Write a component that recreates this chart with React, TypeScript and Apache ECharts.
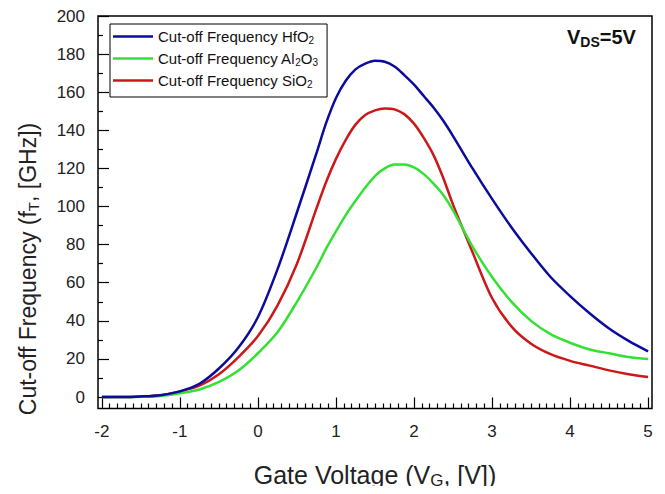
import React, { useEffect, useRef } from "react";
import * as echarts from "echarts";

const FONT = "'Liberation Sans', Arial, sans-serif";

// Gate voltage samples (V)
const vg = [
  -2, -1.75, -1.5, -1.25, -1, -0.75, -0.5, -0.25, 0, 0.25, 0.5,
  0.75, 0.875, 1, 1.125, 1.25, 1.375, 1.5, 1.625, 1.75, 1.875, 2, 2.125, 2.25, 2.375, 2.5,
  2.75, 3, 3.25, 3.5, 3.75, 4, 4.25, 4.5, 4.75, 5,
];
// Cut-off frequency (GHz)
const hfo2 = [
  0, 0, 0.3, 1, 3, 7, 15, 26, 42, 67, 97,
  128, 144, 157, 166, 172, 175, 176.5, 176, 173.5, 169, 164, 158, 152, 145, 137,
  120, 104, 89, 75.5, 63, 53, 44, 36, 29.5, 24,
];
const al2o3 = [
  0, 0, 0.2, 0.6, 2, 4, 8, 14, 23, 34, 50,
  68, 78, 87, 95.5, 103, 110, 116, 120, 122, 122, 120.5, 117, 112, 106, 98,
  79, 63, 50, 40, 33, 28.5, 25, 23, 21, 20,
];
const sio2 = [
  0, 0, 0.3, 1, 3, 6, 12, 21, 32, 48, 70,
  99, 113, 125, 135, 143, 148, 150.5, 151.5, 151, 148.5, 143.5, 136, 127, 115, 101,
  76, 52, 37, 28, 22.5, 19, 16.5, 14, 12, 10.5,
];

const seriesNames = [
  "Cut-off Frequency HfO2",
  "Cut-off Frequency Al2O3",
  "Cut-off Frequency SiO2",
];
const legendRich = [
  "Cut-off Frequency HfO{s|2}",
  "Cut-off Frequency Al{s|2}O{s|3}",
  "Cut-off Frequency SiO{s|2}",
];
const colors = ["#0c0c9c", "#33e033", "#cc1818"];

const xMajor = [-2, -1, 0, 1, 2, 3, 4, 5];
const yMajor = [0, 20, 40, 60, 80, 100, 120, 140, 160, 180, 200];
const xMinor: number[] = [];
for (let i = -20; i <= 50; i++) if (i % 10 !== 0) xMinor.push(i / 10);
const yMinor = [10, 30, 50, 70, 90, 110, 130, 150, 170, 190];

const X_MIN = -2.05;
const X_MAX = 5.05;
const Y_MIN = -6;
const Y_MAX = 200;

export default function App() {
  const ref = useRef<HTMLDivElement>(null);
  useEffect(() => {
    if (!ref.current) return;
    const chart = echarts.init(ref.current, null, { renderer: "svg" });
    const tickLine = { color: "#000", width: 1.2 };
    const hiddenLine = { show: false, onZero: false };
    const option: any = {
      animation: false,
      backgroundColor: "#fff",
      grid: {
        left: 98,
        right: 13,
        top: 16,
        bottom: 81,
        show: true,
        borderColor: "#000",
        borderWidth: 1.5,
        backgroundColor: "transparent",
      },
      legend: {
        data: seriesNames,
        orient: "vertical",
        left: 110,
        top: 24,
        itemWidth: 40,
        itemHeight: 14,
        itemGap: 5,
        padding: [4, 9, 8, 3],
        borderColor: "#000",
        borderWidth: 1,
        backgroundColor: "#fff",
        icon: "path://M0,6L40,6L40,8.5L0,8.5Z",
        formatter: (name: string) => legendRich[seriesNames.indexOf(name)],
        textStyle: {
          fontFamily: FONT,
          fontSize: 15,
          color: "#111",
          lineHeight: 17,
          rich: {
            s: { fontFamily: FONT, fontSize: 10, color: "#111", lineHeight: 11, padding: [7, 0, 0, 0] },
          },
        },
      },
      xAxis: [
        {
          type: "value",
          min: X_MIN,
          max: X_MAX,
          axisLine: hiddenLine,
          splitLine: { show: false },
          axisTick: { inside: true, length: 11, customValues: xMajor, lineStyle: tickLine },
          axisLabel: { customValues: xMajor, fontFamily: FONT, fontSize: 17, color: "#222", margin: 14 },
          name: "Gate Voltage (V{s|G}, [V])",
          nameLocation: "middle",
          nameGap: 53,
          nameTextStyle: {
            fontFamily: FONT,
            fontSize: 25,
            color: "#222",
            lineHeight: 26,
            rich: { s: { fontFamily: FONT, fontSize: 17, color: "#222", lineHeight: 18, padding: [12, 0, 0, 0] } },
          },
        },
        {
          type: "value",
          min: X_MIN,
          max: X_MAX,
          position: "bottom",
          axisLine: hiddenLine,
          splitLine: { show: false },
          axisLabel: { show: false },
          axisTick: { inside: true, length: 5, customValues: xMinor, lineStyle: tickLine },
        },
      ],
      yAxis: [
        {
          type: "value",
          min: Y_MIN,
          max: Y_MAX,
          axisLine: hiddenLine,
          splitLine: { show: false },
          axisTick: { inside: true, length: 11, customValues: yMajor, lineStyle: tickLine },
          axisLabel: { customValues: yMajor, fontFamily: FONT, fontSize: 17, color: "#222", margin: 13 },
        },
        {
          type: "value",
          min: Y_MIN,
          max: Y_MAX,
          position: "left",
          axisLine: hiddenLine,
          splitLine: { show: false },
          axisLabel: { show: false },
          axisTick: { inside: true, length: 5, customValues: yMinor, lineStyle: tickLine },
        },
      ],
      series: [hfo2, al2o3, sio2].map((vals, k) => ({
        name: seriesNames[k],
        type: "line",
        xAxisIndex: 0,
        yAxisIndex: 0,
        data: vg.map((x, i) => [x, vals[i]]),
        smooth: 0.3,
        symbol: "none",
        showSymbol: false,
        lineStyle: { color: colors[k], width: 2.5 },
        itemStyle: { color: colors[k] },
        z: 3 - k,
      })),
      graphic: [
        {
          type: "text",
          left: 567,
          top: 25,
          style: {
            text: "{v|V}{s|DS}{v|=5V}",
            rich: {
              v: { fontFamily: FONT, fontSize: 20, fontWeight: "bold", fill: "#111", lineHeight: 22 },
              s: { fontFamily: FONT, fontSize: 14, fontWeight: "bold", fill: "#111", lineHeight: 14, padding: [10, 0, 0, 0] },
            },
          },
        },
        {
          type: "text",
          x: 28,
          y: 269,
          rotation: Math.PI / 2,
          style: {
            text: "Cut-off Frequency (f{s|T}, [GHz])",
            align: "center",
            verticalAlign: "middle",
            fontFamily: FONT,
            fontSize: 23,
            fill: "#222",
            lineHeight: 25,
            rich: {
              s: { fontFamily: FONT, fontSize: 15, fill: "#222", lineHeight: 16, padding: [11, 0, 0, 0] },
            },
          },
        },
      ],
    };
    chart.setOption(option);
    return () => chart.dispose();
  }, []);
  return <div ref={ref} style={{ width: 665, height: 494, margin: -8 }} />;
}
